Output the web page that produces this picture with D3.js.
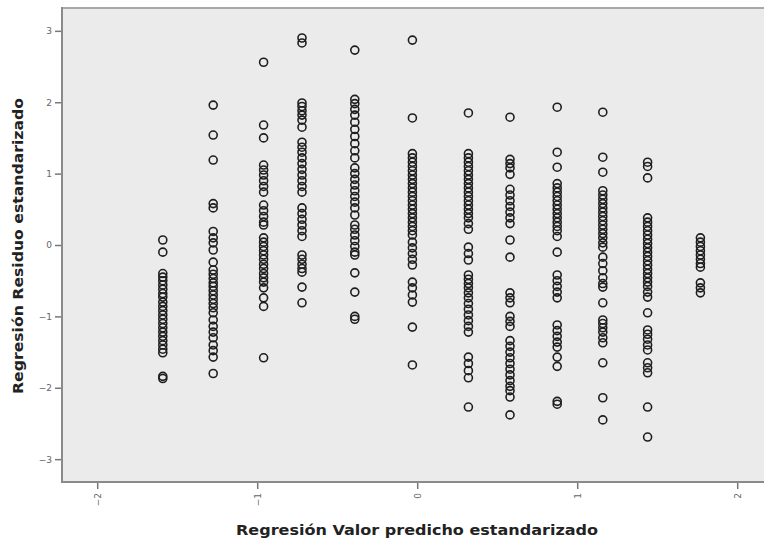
<!DOCTYPE html>
<html>
<head>
<meta charset="utf-8">
<script src="https://cdn.jsdelivr.net/npm/d3@7"></script>
<style>
  html, body { margin: 0; padding: 0; background: #fff; }
  svg { display: block; }
</style>
</head>
<body>
<svg id="chart" width="764" height="542"></svg>
<script>
// Standardized predicted value of each group of cases (x position of each column)
const predicted = [-1.59, -1.275, -0.96, -0.72, -0.39, -0.03, 0.32, 0.58, 0.875, 1.16, 1.44, 1.77];

// Standardized residuals observed at each predicted value
const residuals = [
  [0.07, -0.1, -0.4, -0.45, -0.5, -0.56, -0.62, -0.68, -0.73, -0.8, -0.86, -0.92, -0.98, -1.04, -1.1, -1.16, -1.22, -1.28, -1.34, -1.4, -1.46, -1.51, -1.84, -1.87],
  [1.96, 1.54, 1.19, 0.58, 0.52, 0.19, 0.1, 0.03, -0.07, -0.24, -0.35, -0.41, -0.47, -0.53, -0.58, -0.64, -0.7, -0.76, -0.82, -0.88, -0.95, -1.05, -1.14, -1.22, -1.3, -1.4, -1.48, -1.57, -1.8],
  [2.56, 1.68, 1.5, 1.12, 1.05, 0.98, 0.9, 0.82, 0.74, 0.56, 0.48, 0.4, 0.32, 0.28, 0.1, 0.04, -0.02, -0.08, -0.14, -0.2, -0.27, -0.33, -0.4, -0.46, -0.52, -0.6, -0.74, -0.86, -1.58],
  [2.9, 2.83, 1.99, 1.94, 1.88, 1.82, 1.75, 1.65, 1.44, 1.37, 1.3, 1.22, 1.14, 1.06, 0.98, 0.9, 0.82, 0.74, 0.52, 0.44, 0.36, 0.28, 0.2, 0.12, -0.14, -0.2, -0.27, -0.33, -0.38, -0.59, -0.81],
  [2.73, 2.04, 1.98, 1.9, 1.82, 1.72, 1.62, 1.52, 1.42, 1.32, 1.22, 1.08, 1.0, 0.92, 0.84, 0.76, 0.68, 0.6, 0.52, 0.42, 0.28, 0.22, 0.14, 0.06, -0.02, -0.1, -0.14, -0.39, -0.66, -1.0, -1.04],
  [2.87, 1.78, 1.28, 1.22, 1.16, 1.1, 1.04, 0.98, 0.92, 0.86, 0.8, 0.74, 0.68, 0.62, 0.56, 0.5, 0.44, 0.38, 0.32, 0.26, 0.2, 0.14, 0.04, -0.04, -0.12, -0.2, -0.28, -0.52, -0.6, -0.7, -0.8, -1.15, -1.68],
  [1.85, 1.28, 1.22, 1.16, 1.1, 1.04, 0.98, 0.92, 0.86, 0.8, 0.74, 0.68, 0.62, 0.56, 0.5, 0.44, 0.38, 0.3, 0.22, -0.03, -0.12, -0.21, -0.42, -0.48, -0.54, -0.6, -0.67, -0.74, -0.82, -0.9, -0.98, -1.06, -1.14, -1.22, -1.57, -1.66, -1.76, -1.86, -2.27],
  [1.79, 1.2, 1.14, 1.08, 0.99, 0.78, 0.7, 0.62, 0.54, 0.46, 0.38, 0.3, 0.07, -0.17, -0.67, -0.74, -0.81, -1.0, -1.07, -1.14, -1.34, -1.42, -1.5, -1.58, -1.66, -1.74, -1.82, -1.9, -1.98, -2.04, -2.13, -2.38],
  [1.93, 1.3, 1.09, 0.86, 0.8, 0.74, 0.68, 0.62, 0.56, 0.5, 0.44, 0.38, 0.32, 0.26, 0.2, 0.12, -0.1, -0.42, -0.5, -0.58, -0.66, -0.74, -1.12, -1.2, -1.28, -1.36, -1.43, -1.57, -1.7, -2.19, -2.23],
  [1.86, 1.23, 1.02, 0.76, 0.7, 0.64, 0.58, 0.52, 0.46, 0.4, 0.34, 0.28, 0.22, 0.16, 0.1, 0.03, -0.03, -0.17, -0.26, -0.36, -0.46, -0.54, -0.59, -0.81, -1.05, -1.1, -1.16, -1.22, -1.3, -1.37, -1.65, -2.14, -2.45],
  [1.16, 1.1, 0.94, 0.38, 0.32, 0.26, 0.2, 0.14, 0.08, 0.02, -0.04, -0.1, -0.16, -0.22, -0.28, -0.34, -0.4, -0.46, -0.52, -0.58, -0.66, -0.73, -0.95, -1.19, -1.25, -1.32, -1.4, -1.47, -1.65, -1.72, -1.79, -2.27, -2.69],
  [0.1, 0.04, -0.02, -0.08, -0.14, -0.2, -0.26, -0.31, -0.53, -0.6, -0.67]
];

const xTicks = [-2, -1, 0, 1, 2];
const yTicks = [3, 2, 1, 0, -1, -2, -3];

const xTitle = "Regresión Valor predicho estandarizado";
const yTitle = "Regresión Residuo estandarizado";

// Flatten the columns into individual cases
const points = [];
predicted.forEach((p, i) => residuals[i].forEach(r => points.push({ x: p, y: r })));

const svg = d3.select("#chart");
const plot = { left: 62, top: 8, right: 772, bottom: 482 };
const font = "'DejaVu Sans', Verdana, sans-serif";

const x = d3.scaleLinear().domain([-2.22, 2.22]).range([plot.left, plot.left + 4.44 * 160]);
const y = d3.scaleLinear().domain([-3.32, 3.32]).range([plot.bottom, plot.top]);

// Plot frame
svg.append("rect")
  .attr("x", plot.left).attr("y", plot.top)
  .attr("width", plot.right - plot.left).attr("height", plot.bottom - plot.top)
  .attr("fill", "#ebebeb");
svg.append("line")
  .attr("x1", plot.left).attr("x2", plot.right)
  .attr("y1", plot.top).attr("y2", plot.top)
  .attr("stroke", "#a8a8a8").attr("stroke-width", 2);
svg.append("line")
  .attr("x1", plot.left).attr("x2", plot.left)
  .attr("y1", plot.top - 1).attr("y2", plot.bottom + 1)
  .attr("stroke", "#8a8a8a").attr("stroke-width", 2);
svg.append("line")
  .attr("x1", plot.left - 1).attr("x2", plot.right)
  .attr("y1", plot.bottom).attr("y2", plot.bottom)
  .attr("stroke", "#8a8a8a").attr("stroke-width", 2);

// Axes
const xAxis = svg.append("g")
  .attr("transform", `translate(0,${plot.bottom + 1})`)
  .call(d3.axisBottom(x).tickValues(xTicks).tickSize(6).tickPadding(4).tickFormat(d3.format("d")));
xAxis.select(".domain").remove();
xAxis.selectAll(".tick line").attr("stroke", "#777").attr("stroke-width", 1.5);
xAxis.selectAll(".tick text")
  .attr("fill", "#666").attr("font-family", font).attr("font-size", 9)
  .attr("transform", "rotate(-90)")
  .attr("text-anchor", "end").attr("dy", "0.35em")
  .attr("x", -10).attr("y", 0);

const yAxis = svg.append("g")
  .attr("transform", `translate(${plot.left - 1},0)`)
  .call(d3.axisLeft(y).tickValues(yTicks).tickSize(6).tickPadding(3).tickFormat(d3.format("d")));
yAxis.select(".domain").remove();
yAxis.selectAll(".tick line").attr("stroke", "#777").attr("stroke-width", 1.5);
yAxis.selectAll(".tick text")
  .attr("fill", "#666").attr("font-family", font).attr("font-size", 9);

// Cases
svg.append("g")
  .selectAll("circle")
  .data(points)
  .join("circle")
  .attr("cx", d => x(d.x))
  .attr("cy", d => y(d.y))
  .attr("r", 4)
  .attr("fill", "none")
  .attr("stroke", "#1e1e1e")
  .attr("stroke-width", 1.6);

// Axis titles
svg.append("text")
  .attr("x", 417).attr("y", 535)
  .attr("text-anchor", "middle")
  .attr("font-family", font)
  .attr("font-size", 14).attr("font-weight", "bold").attr("fill", "#222")
  .attr("textLength", 362).attr("lengthAdjust", "spacingAndGlyphs")
  .text(xTitle);

svg.append("text")
  .attr("transform", `translate(23,${246}) rotate(-90)`)
  .attr("text-anchor", "middle")
  .attr("font-family", font)
  .attr("font-size", 14).attr("font-weight", "bold").attr("fill", "#222")
  .attr("textLength", 296).attr("lengthAdjust", "spacingAndGlyphs")
  .text(yTitle);
</script>
</body>
</html>
